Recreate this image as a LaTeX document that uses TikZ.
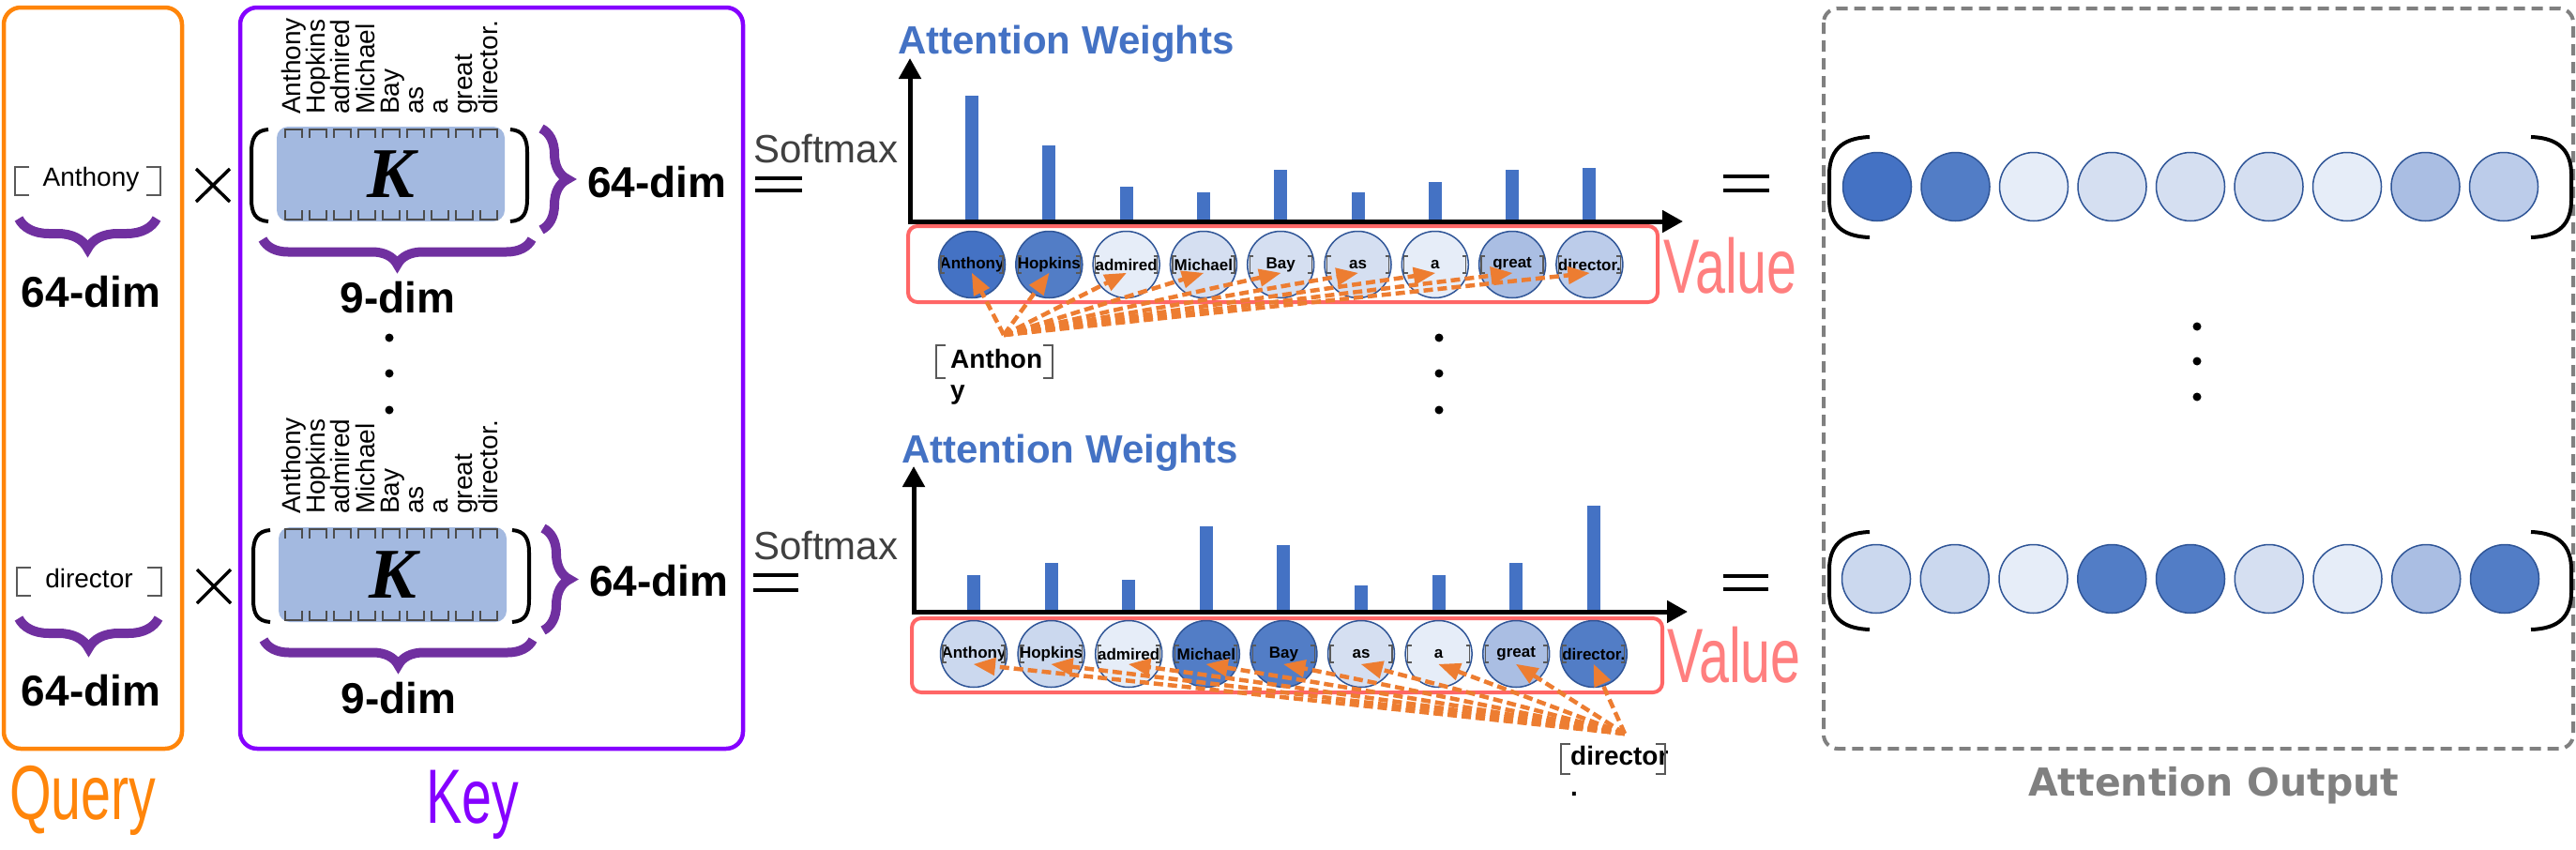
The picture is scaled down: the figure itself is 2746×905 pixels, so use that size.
\documentclass[tikz,border=0pt]{standalone}
\usepackage{fontspec}
\setmainfont{Liberation Sans}
\newfontfamily\narrowfont[FakeStretch=0.7]{Liberation Sans}
\newfontfamily\kfont{Liberation Serif}
\newfontfamily\outfont{DejaVu Sans}
\usetikzlibrary{arrows,arrows.meta,decorations.pathreplacing}

\definecolor{qorange}{RGB}{255,133,10}
\definecolor{kviolet}{RGB}{133,0,255}
\definecolor{bracepurple}{RGB}{112,48,160}
\definecolor{attblue}{RGB}{68,114,196}
\definecolor{valred}{RGB}{255,102,102}
\definecolor{valtext}{RGB}{255,127,127}
\definecolor{arrorange}{RGB}{237,125,49}
\definecolor{kfill}{RGB}{163,185,224}
\definecolor{cedge}{RGB}{47,85,151}
\definecolor{softgrey}{RGB}{64,64,64}
\definecolor{outgrey}{RGB}{128,128,128}
\definecolor{wA}{RGB}{68,114,196}
\definecolor{wB}{RGB}{82,125,198}
\definecolor{wC}{RGB}{170,190,227}
\definecolor{wD}{RGB}{188,204,234}
\definecolor{wE}{RGB}{203,216,238}
\definecolor{wF}{RGB}{213,223,241}
\definecolor{wG}{RGB}{230,237,248}

\newcommand\wordbrk[5]{%
  \draw[brkline] (#1+#5,#2) -- (#1,#2) -- (#1,#4) -- (#1+#5,#4)
                 (#3-#5,#2) -- (#3,#2) -- (#3,#4) -- (#3-#5,#4);}

\begin{document}
\begin{tikzpicture}[x=1pt,y=-1pt,
  every node/.style={inner sep=0pt},
  grpbox/.style={line width=4.5pt,rounded corners=18pt},
  dimbrace/.style={draw=bracepurple,line width=10pt,decorate,decoration={brace,amplitude=#1}},
  dimtext/.style={font=\fontsize{46}{46}\selectfont\bfseries},
  qword/.style={font=\fontsize{28}{28}\selectfont},
  bigword/.style={font=\narrowfont\fontsize{82}{82}\selectfont},
  brkline/.style={draw=black!65,line width=1.3pt},
  keywords/.style={rotate=90,align=left,anchor=north west,font=\fontsize{28}{26.2}\selectfont},
  kblock/.style={fill=kfill,rounded corners=12pt,minimum width=243pt,minimum height=101pt,
    font=\kfont\fontsize{76}{76}\selectfont\bfseries\itshape},
  markline/.style={draw=black!70,line width=1.2pt},
  paren/.style={draw=black,line width=4pt},
  timesline/.style={line width=3.5pt},
  eqline/.style={line width=4.5pt},
  softtext/.style={font=\fontsize{42}{42}\selectfont,text=softgrey},
  weighttext/.style={font=\fontsize{42}{42}\selectfont\bfseries,text=attblue},
  axis/.style={line width=5pt,-{Triangle[length=22pt,width=23pt]}},
  bar/.style={fill=attblue},
  valbox/.style={draw=valred,line width=4pt,rounded corners=10pt},
  valcirc/.style={circle,draw=cedge,line width=1.5pt,minimum size=71pt,
    font=\fontsize{17}{17}\selectfont\bfseries},
  outcirc/.style={circle,draw=cedge,line width=1.5pt,minimum size=73pt},
  attarrow/.style={draw=arrorange,line width=4.5pt,dash pattern=on 10pt off 5pt,-triangle 45},
  srclabel/.style={align=left,anchor=north west,font=\fontsize{28}{33}\selectfont\bfseries},
  outbox/.style={draw=outgrey,line width=4pt,dash pattern=on 12pt off 7pt,rounded corners=15pt}]

\useasboundingbox (0,0) rectangle (2746,905);

\draw[grpbox,draw=qorange] (4,8) rectangle (194,798);
\node[bigword,text=qorange,anchor=base west] (query) at (10,873) {Query};

\draw[grpbox,draw=kviolet] (256,8) rectangle (792,798);
\node[bigword,text=kviolet,anchor=base west] (key) at (454,877) {Key};

\draw[outbox] (1944,9) rectangle (2743,798);
\node[font=\outfont\fontsize{41}{41}\selectfont\bfseries,text=outgrey,anchor=base west] (attout) at (2162,848) {Attention Output};

\node[qword,anchor=base] (qwA) at (97,198) {Anthony};
\wordbrk{16}{178}{171}{208}{15}
\draw[dimbrace=32] (167,233) -- (20,233);
\node[dimtext,anchor=base] (qdimA) at (97,327) {64-dim};

\node[qword,anchor=base] (qwB) at (95,626) {director};
\wordbrk{18}{605}{172}{635}{15}
\draw[dimbrace=32] (169,659) -- (20,659);
\node[dimtext,anchor=base] (qdimB) at (97,752) {64-dim};

\draw[timesline] (209,180) -- (245,215) (209,215) -- (245,180);
\draw[timesline] (210,607) -- (246,643) (210,643) -- (246,607);

\node[keywords] (wordsA) at (300,122) {Anthony\\Hopkins\\admired\\Michael\\Bay\\as\\a\\great\\director.};
\node[kblock] (kA) at (416.5,185.5) {K};
\foreach \i in {0,...,8} {
  \pgfmathsetmacro\x{313+26*\i}
  \draw[markline] (\x-9,147) -- (\x-9,138) -- (\x+9,138) -- (\x+9,147);
  \draw[markline] (\x-9,224) -- (\x-9,234) -- (\x+9,234) -- (\x+9,224);
}
\draw[paren] (286,138) .. controls (272,139) and (268,148) .. (268,162) -- (268,212) .. controls (268,227) and (272,235) .. (286,236);
\draw[paren] (544,138) .. controls (558,139) and (562,148) .. (562,162) -- (562,212) .. controls (562,227) and (558,235) .. (544,236);
\draw[dimbrace=28] (577,137) -- (577,245);
\node[dimtext,anchor=base west] (kdimA) at (626,210) {64-dim};
\draw[dimbrace=27] (567,255) -- (280,255);
\node[dimtext,anchor=base] (ndimA) at (424,333) {9-dim};

\foreach \y in {360,398,437} \fill (415,\y) circle (4.5);

\node[keywords] (wordsB) at (300,548) {Anthony\\Hopkins\\admired\\Michael\\Bay\\as\\a\\great\\director.};
\node[kblock] (kB) at (418.5,612.5) {K};
\foreach \i in {0,...,8} {
  \pgfmathsetmacro\x{313+26*\i}
  \draw[markline] (\x-9,574) -- (\x-9,564) -- (\x+9,564) -- (\x+9,574);
  \draw[markline] (\x-9,651) -- (\x-9,661) -- (\x+9,661) -- (\x+9,651);
}
\draw[paren] (288,565) .. controls (274,566) and (270,575) .. (270,589) -- (270,639) .. controls (270,654) and (274,662) .. (288,663);
\draw[paren] (546,565) .. controls (560,566) and (564,575) .. (564,589) -- (564,639) .. controls (564,654) and (560,662) .. (546,663);
\draw[dimbrace=28] (579,563) -- (579,672);
\node[dimtext,anchor=base west] (kdimB) at (628,635) {64-dim};
\draw[dimbrace=27] (568,682) -- (281,682);
\node[dimtext,anchor=base] (ndimB) at (425,760) {9-dim};

\draw[eqline] (805,190) -- (855,190) (805,203) -- (855,203);
\node[softtext,anchor=base west] (softA) at (803,173) {Softmax};
\node[weighttext,anchor=base west] (wtA) at (957,57) {Attention Weights};
\foreach \h [count=\i from 0] in {134,81,37,31,55,31,42,55,57}
  \fill[bar] (1036+82.3*\i-7,236) rectangle ++(14,-\h);
\draw[axis] (970,238) -- (970,62);
\draw[axis] (968,236) -- (1794,236);
\draw[valbox] (968,241) rectangle (1767,322);
\node[bigword,text=valtext,anchor=base west] (valA) at (1773,312) {Value};
\foreach \w/\c [count=\i from 0] in {Anthony/wA,Hopkins/wB,admired/wG,Michael/wF,Bay/wF,as/wF,a/wG,great/wC,director./wD} {
  \pgfmathsetmacro\x{1036+82.3*\i}
  \node[valcirc,fill=\c] (va\i) at (\x,282) {\w};
  \wordbrk{\x-33}{273}{\x+33}{291}{4}
}
\coordinate (srcA) at (1070,357);
\foreach \i in {0,...,8} \draw[attarrow] (srcA) -- ([yshift=-9pt]va\i.center);
\node[srclabel] (lblA) at (1013,372) {Anthon\\y};
\wordbrk{998}{368}{1122}{403}{10}

\foreach \y in {360,398,437} \fill (1534,\y) circle (4.5);

\draw[eqline] (803,613) -- (851,613) (803,629) -- (851,629);
\node[softtext,anchor=base west] (softB) at (803,596) {Softmax};
\node[weighttext,anchor=base west] (wtB) at (961,493) {Attention Weights};
\foreach \h [count=\i from 0] in {39,52,34,91,71,28,39,52,113}
  \fill[bar] (1038+82.6*\i-7,652) rectangle ++(14,-\h);
\draw[axis] (974,654) -- (974,497);
\draw[axis] (972,652) -- (1799,652);
\draw[valbox] (972,659) rectangle (1772,738);
\node[bigword,text=valtext,anchor=base west] (valB) at (1777,727) {Value};
\foreach \w/\c [count=\i from 0] in {Anthony/wE,Hopkins/wE,admired/wG,Michael/wB,Bay/wB,as/wF,a/wG,great/wC,director./wB} {
  \pgfmathsetmacro\x{1038+82.6*\i}
  \node[valcirc,fill=\c] (vb\i) at (\x,697) {\w};
  \wordbrk{\x-33}{688}{\x+33}{706}{4}
}
\coordinate (srcB) at (1732,782);
\foreach \i in {0,...,8} \draw[attarrow] (srcB) -- ([yshift=-11pt]vb\i.center);
\node[srclabel] (lblB) at (1674,795) {director\\.};
\wordbrk{1664}{793}{1775}{825}{10}

\draw[eqline] (1837,188) -- (1886,188) (1837,203) -- (1886,203);
\draw[eqline] (1837,614) -- (1885,614) (1837,628) -- (1885,628);

\draw[paren] (1993,146) .. controls (1962,147) and (1950,162) .. (1950,186) -- (1950,213) .. controls (1950,238) and (1962,252) .. (1993,253);
\draw[paren] (2698,146) .. controls (2729,147) and (2741,162) .. (2741,186) -- (2741,213) .. controls (2741,238) and (2729,252) .. (2698,253);
\foreach \c [count=\i from 0] in {wA,wB,wG,wF,wF,wF,wG,wC,wD}
  \node[outcirc,fill=\c] (oa\i) at (2001+83.5*\i,199) {};

\foreach \y in {348,385,423} \fill (2342,\y) circle (4.5);

\draw[paren] (1993,567) .. controls (1962,568) and (1950,583) .. (1950,607) -- (1950,631) .. controls (1950,656) and (1962,670) .. (1993,671);
\draw[paren] (2698,567) .. controls (2729,568) and (2741,583) .. (2741,607) -- (2741,631) .. controls (2741,656) and (2729,670) .. (2698,671);
\foreach \c [count=\i from 0] in {wE,wE,wG,wB,wB,wF,wG,wC,wB}
  \node[outcirc,fill=\c] (ob\i) at (2000+83.75*\i,617) {};
\end{tikzpicture}
\end{document}
